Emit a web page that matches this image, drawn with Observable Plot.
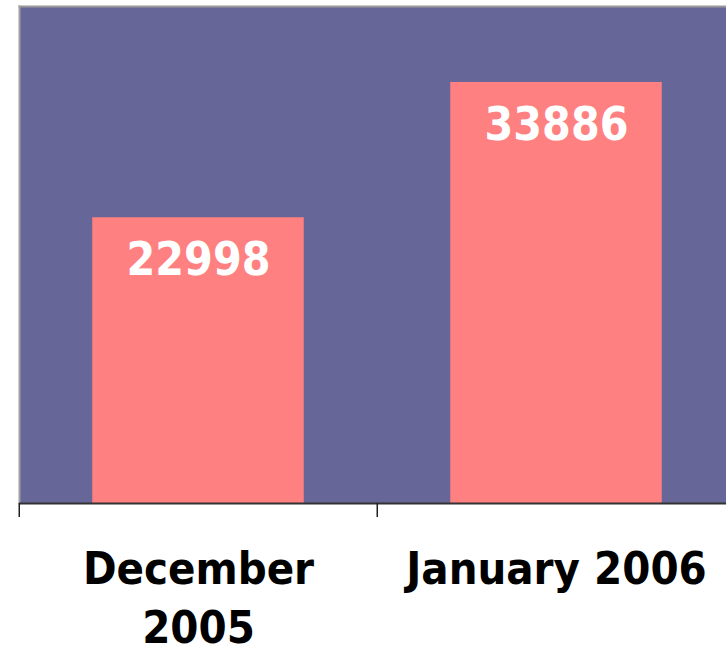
<!DOCTYPE html>
<html>
<head>
<meta charset="utf-8">
<script src="https://cdn.jsdelivr.net/npm/d3@7"></script>
<script src="https://cdn.jsdelivr.net/npm/@observablehq/plot@0.6"></script>
<style>
  html, body { margin: 0; padding: 0; background: #ffffff; }
  #chart svg { display: block; }
</style>
</head>
<body>
<div id="chart"></div>
<script>
const months = ["December 2005", "January 2006"];
const monthLines = [["December", "2005"], ["January 2006"]];
const visitors = [22998, 33886];

const data = months.map((m, i) => ({month: m, value: visitors[i], lines: monthLines[i]}));

const W = 726, H = 649;
const xRange = [18.5, 735.5];
const step = (xRange[1] - xRange[0]) / months.length;
const barWidth = 212;
const inset = (step - barWidth) / 2;
const font = "'DejaVu Sans Condensed', 'DejaVu Sans', sans-serif";

const chart = Plot.plot({
  width: W,
  height: H,
  marginTop: 6,
  marginLeft: 19,
  marginRight: 0,
  marginBottom: 146,
  style: {fontFamily: font, background: "#ffffff", overflow: "hidden"},
  x: {domain: months, range: xRange, padding: 0, axis: null},
  y: {domain: [0, 40000], axis: null},
  marks: [
    Plot.frame({fill: "#666699", stroke: null}),
    Plot.frame({anchor: "top", stroke: "#999999", strokeWidth: 2}),
    Plot.frame({anchor: "left", stroke: "#a0a0a0", strokeWidth: 2}),
    Plot.barY(data, {x: "month", y: "value", fill: "#ff8080", insetLeft: inset, insetRight: inset}),
    Plot.text(data, {x: "month", y: "value", text: d => String(d.value), fill: "#ffffff",
      fontSize: 46, fontWeight: "bold", dy: 43, lineAnchor: "middle"}),
    Plot.ruleY([0], {stroke: "#333333", strokeWidth: 2}),
    Plot.ruleX(months, {x: d => d, y1: 0, y2: 0, insetBottom: -14, stroke: "#222222", strokeWidth: 1.5, dx: -step / 2}),
    Plot.text(data, {x: "month", frameAnchor: "bottom", text: d => d.lines.join("\n"), fill: "#000000",
      fontSize: 45, fontWeight: "bold", lineAnchor: "top", dy: 39, lineHeight: 1.3})
  ]
});
document.getElementById("chart").appendChild(chart);
</script>
</body>
</html>
